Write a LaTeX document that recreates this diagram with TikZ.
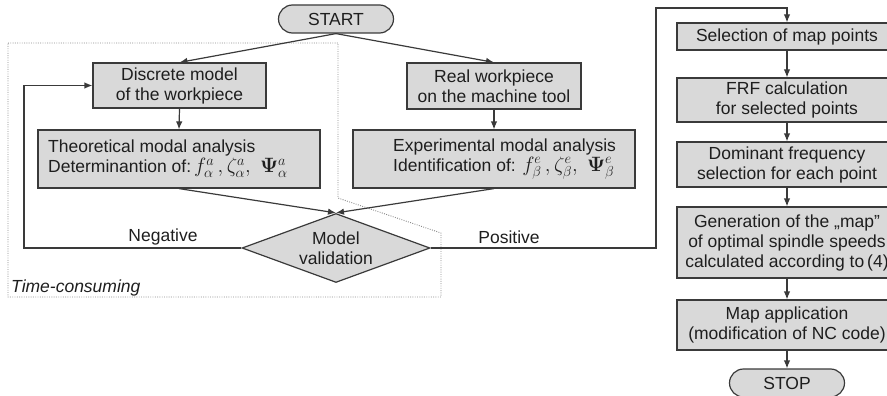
\documentclass[tikz,border=0pt]{standalone}
\usepackage[no-math]{fontspec}
\setmainfont{Liberation Sans}
\usetikzlibrary{shapes.geometric,shapes.misc,arrows.meta}
\definecolor{boxfill}{HTML}{D9D9D9}
\definecolor{edge}{HTML}{3A3A3A}
\definecolor{ink}{HTML}{1E1E1E}
\definecolor{framecol}{HTML}{8A8A8A}
\newcommand{\mathbig}[1]{{\fontsize{21}{20}\selectfont$#1$}}
\begin{document}
\begin{tikzpicture}[x=1pt,y=-1pt,
  every node/.style={font=\fontsize{17.5}{20}\selectfont, text=ink},
  box/.style={draw=edge, fill=boxfill, line width=1.2pt, inner sep=0pt, align=center},
  term/.style={box, rounded rectangle, minimum width=115pt, minimum height=28pt},
  arr/.style={draw=edge, line width=1.2pt, -{Latex[length=8pt,width=6.5pt]}},
  frameline/.style={draw=framecol, line width=0.9pt, dash pattern=on 0.9pt off 1.4pt},
  lbl/.style={inner sep=0pt}]
\useasboundingbox (0,0) rectangle (887,396);
\draw[frameline] (8,43) -- (338,43) -- (338,198) -- (441,233) -- (441,297) -- (8,297) -- cycle;

\node[term] (start) at (336,19) {START};
\node[box, minimum width=173pt, minimum height=45pt] (disc) at (179.5,85.5) {Discrete model\\of the workpiece};
\node[box, minimum width=282pt, minimum height=58pt] (theo) at (179,159) {};
\node[lbl, anchor=west, align=left] (theotxt) at (48,159) {Theoretical modal analysis\\Determinantion of:\,\mathbig{f^{a}_{\alpha}\,,\zeta^{a}_{\alpha},\;\mathbf{\Psi}^{a}_{\alpha}}};
\node[box, minimum width=174pt, minimum height=46pt] (real) at (494,86) {Real workpiece\\on the machine tool};
\node[box, minimum width=282pt, minimum height=58pt] (exp) at (494,159) {};
\node[lbl, anchor=west, align=left] (exptxt) at (393,159) {Experimental modal analysis\\Identification of: \mathbig{f^{e}_{\beta}\,,\zeta^{e}_{\beta},\;\mathbf{\Psi}^{e}_{\beta}}};
\node[box, diamond, aspect=2.72, minimum width=188pt, minimum height=69pt] (val) at (336,248) {Model\\validation};

\node[lbl] (neg) at (163,237) {Negative};
\node[lbl] (pos) at (509,237) {Positive};
\node[lbl, anchor=west, font=\fontsize{17.5}{20}\selectfont\itshape] (tc) at (11,288) {Time-consuming};

\node[box, minimum width=220pt, minimum height=27pt] (sel) at (787,36.5) {Selection of map points};
\node[box, minimum width=220pt, minimum height=44pt] (frf) at (787,100) {FRF calculation\\for selected points};
\node[box, minimum width=220pt, minimum height=45pt] (dom) at (787,164.5) {Dominant frequency\\selection for each point};
\node[box, minimum width=220pt, minimum height=71pt] (gen) at (787,242.5) {Generation of the „map”\\of optimal spindle speeds\\calculated according to\,(4)};
\node[box, minimum width=220pt, minimum height=50pt] (app) at (787,325) {Map application\\(modification of NC code)};
\node[term] (stop) at (787,383) {STOP};

\draw[arr] (start.south) -- (disc.north);
\draw[arr] (start.south) -- (real.north);
\draw[arr] (disc.south) -- (theo.north);
\draw[arr] (real.south) -- (exp.north);
\draw[arr] (theo.south) -- (val.north);
\draw[arr] (exp.south) -- (val.north);
\coordinate (nc) at (24,248);
\draw[arr] (val.west) -- (nc) |- (disc.west);
\coordinate (pc) at (656,8);
\draw[arr] (val.east) -| (pc) -| (sel.north);
\draw[arr] (sel.south) -- (frf.north);
\draw[arr] (frf.south) -- (dom.north);
\draw[arr] (dom.south) -- (gen.north);
\draw[arr] (gen.south) -- (app.north);
\draw[arr] (app.south) -- (stop.north);
\end{tikzpicture}
\end{document}
